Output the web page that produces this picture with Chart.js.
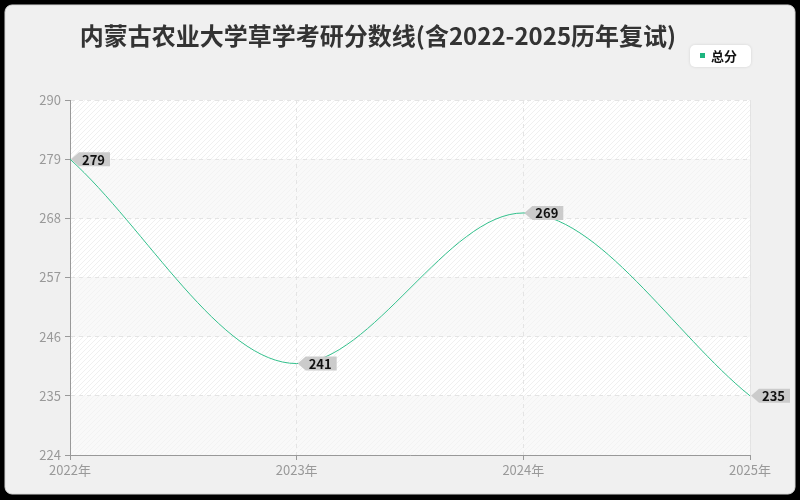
<!DOCTYPE html>
<html lang="zh">
<head>
    <meta charset="UTF-8">
    <title>内蒙古农业大学草学考研分数线</title>
    <script src="https://cdn.jsdelivr.net/npm/chart.js@4.4.0/dist/chart.umd.min.js"></script>
    <style>
        html, body { margin: 0; padding: 0; background: #000; }
        #wrap { width: 800px; height: 500px; }
    </style>
</head>
<body>
    <div id="wrap"><canvas id="scoreChart" width="800" height="500"></canvas></div>

    <script>
        const titleText = '内蒙古农业大学草学考研分数线(含2022-2025历年复试)';
        const years = ['2022年', '2023年', '2024年', '2025年'];
        const totalScores = [279, 241, 269, 235];
        const seriesName = '总分';
        const yMin = 224, yMax = 290, yStep = 11;

        const lineColor = '#33c08c';
        const font = '"Noto Sans CJK SC", "Noto Sans", sans-serif';

        // diagonal hatch used for the plot background
        function makeHatch(bg, alpha) {
            const c = document.createElement('canvas');
            c.width = 5; c.height = 5;
            const g = c.getContext('2d');
            g.fillStyle = bg;
            g.fillRect(0, 0, 5, 5);
            g.strokeStyle = 'rgba(0,0,0,' + alpha + ')';
            g.lineWidth = 1;
            g.beginPath();
            g.moveTo(0, 5); g.lineTo(5, 0);
            g.moveTo(-2.5, 2.5); g.lineTo(2.5, -2.5);
            g.moveTo(2.5, 7.5); g.lineTo(7.5, 2.5);
            g.stroke();
            return g.createPattern(c, 'repeat');
        }

        function roundRect(ctx, x, y, w, h, r) {
            ctx.beginPath();
            ctx.moveTo(x + r, y);
            ctx.arcTo(x + w, y, x + w, y + h, r);
            ctx.arcTo(x + w, y + h, x, y + h, r);
            ctx.arcTo(x, y + h, x, y, r);
            ctx.arcTo(x, y, x + w, y, r);
            ctx.closePath();
        }

        const framePlugin = {
            id: 'frame',
            beforeDraw(chart) {
                const ctx = chart.ctx;
                const a = chart.chartArea;
                ctx.save();
                ctx.fillStyle = '#000';
                ctx.fillRect(0, 0, chart.width, chart.height);
                roundRect(ctx, 5, 5, 790, 489, 7);
                ctx.fillStyle = '#f0f0f0';
                ctx.fill();
                ctx.strokeStyle = '#d8d8d8';
                ctx.stroke();

                // banded plot background
                const ys = chart.scales.y;
                const white = makeHatch('#ffffff', 0.06);
                const grey = makeHatch('#f9f9f9', 0.025);
                for (let v = yMax, i = 0; v > yMin; v -= yStep, i++) {
                    const top = ys.getPixelForValue(v);
                    const bot = ys.getPixelForValue(v - yStep);
                    ctx.fillStyle = i % 2 === 0 ? white : grey;
                    ctx.fillRect(a.left, top, a.right - a.left, bot - top);
                }
                ctx.strokeStyle = '#e2e2e2';
                ctx.beginPath();
                ctx.moveTo(a.right + 0.5, a.top);
                ctx.lineTo(a.right + 0.5, a.bottom);
                ctx.stroke();

                // title
                ctx.fillStyle = '#333';
                ctx.font = 'bold 24px ' + font;
                ctx.textAlign = 'center';
                ctx.textBaseline = 'middle';
                ctx.fillText(titleText, 378, 36);

                // legend
                ctx.shadowColor = 'rgba(0,0,0,0.12)';
                ctx.shadowBlur = 3;
                roundRect(ctx, 690, 45, 61, 22, 5);
                ctx.fillStyle = '#fff';
                ctx.fill();
                ctx.shadowColor = 'transparent';
                ctx.fillStyle = '#1db57f';
                ctx.fillRect(700, 53, 5, 5);
                ctx.fillStyle = '#111';
                ctx.font = 'bold 13px ' + font;
                ctx.textAlign = 'left';
                ctx.fillText(seriesName, 711, 56);
                ctx.restore();
            }
        };

        const tagPlugin = {
            id: 'tags',
            afterDatasetsDraw(chart) {
                const ctx = chart.ctx;
                const meta = chart.getDatasetMeta(0);
                ctx.save();
                ctx.font = 'bold 13px ' + font;
                ctx.textBaseline = 'middle';
                ctx.textAlign = 'left';
                meta.data.forEach((pt, i) => {
                    const label = String(chart.data.datasets[0].data[i]);
                    const x = pt.x, y = pt.y;
                    const w = ctx.measureText(label).width + 8;
                    const bx = x + 9, h = 14;
                    ctx.fillStyle = '#cbcbcb';
                    ctx.beginPath();
                    ctx.moveTo(x + 1, y);
                    ctx.lineTo(bx, y - h / 2);
                    ctx.lineTo(bx + w, y - h / 2);
                    ctx.lineTo(bx + w, y + h / 2);
                    ctx.lineTo(bx, y + h / 2);
                    ctx.closePath();
                    ctx.fill();
                    ctx.fillStyle = '#111';
                    ctx.fillText(label, bx + 3, y + 0.5);
                });
                ctx.restore();
            }
        };

        new Chart(document.getElementById('scoreChart').getContext('2d'), {
            type: 'line',
            data: {
                labels: years,
                datasets: [{
                    label: seriesName,
                    data: totalScores,
                    borderColor: lineColor,
                    borderWidth: 1,
                    pointRadius: 0,
                    cubicInterpolationMode: 'monotone',
                    fill: false
                }]
            },
            options: {
                responsive: false,
                animation: false,
                devicePixelRatio: 1,
                layout: { padding: { left: 0, right: 50, top: 100, bottom: 0 } },
                plugins: {
                    legend: { display: false },
                    title: { display: false },
                    tooltip: { enabled: false }
                },
                scales: {
                    x: {
                        offset: false,
                        afterFit: s => { s.height = 45; },
                        grid: { color: '#e4e4e4', tickLength: 5, tickColor: '#999' },
                        border: { color: '#999', dash: [4, 4] },
                        ticks: { color: '#999', font: { size: 13, family: font }, padding: 2, maxRotation: 0 }
                    },
                    y: {
                        min: yMin,
                        max: yMax,
                        afterFit: s => { s.width = 70; },
                        grid: { color: '#e4e4e4', tickLength: 5, tickColor: '#999' },
                        border: { color: '#999', dash: [4, 4] },
                        ticks: { stepSize: yStep, color: '#999', font: { size: 13, family: font }, padding: 4 }
                    }
                }
            },
            plugins: [framePlugin, tagPlugin]
        });
    </script>
</body>
</html>
